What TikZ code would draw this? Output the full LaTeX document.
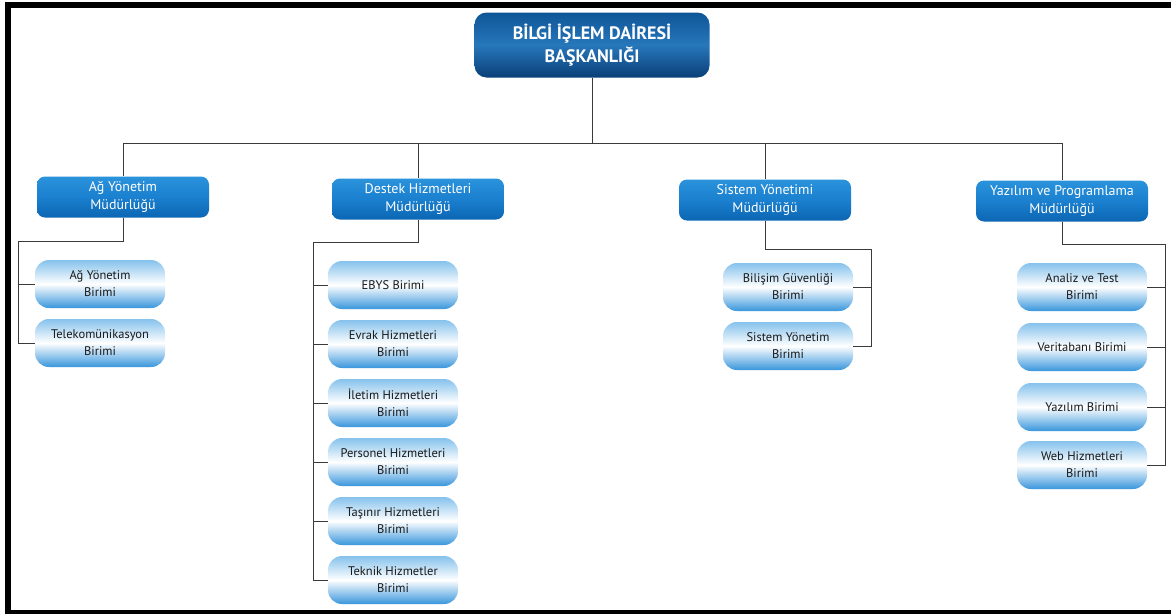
\documentclass[tikz,border=0pt]{standalone}
\usepackage{fontspec}
\setmainfont{PT Sans}
\usetikzlibrary{positioning}

\definecolor{baskanust}{HTML}{0E5597}
\definecolor{baskanorta}{HTML}{2777BB}
\definecolor{baskanalt}{HTML}{0A3F78}
\definecolor{mudurust}{HTML}{2B92DC}
\definecolor{mudurorta}{HTML}{1A80CF}
\definecolor{muduralt}{HTML}{0C66B3}
\definecolor{birimust}{HTML}{86C2EC}
\definecolor{birimalt}{HTML}{3896DC}
\definecolor{hatrengi}{HTML}{3A3A3A}

\begin{document}
\begin{tikzpicture}[x=1pt,y=-1pt,
    baskan/.style={rounded corners=12pt,minimum width=235pt,minimum height=65pt,
        top color=baskanust,bottom color=baskanalt,middle color=baskanorta,
        text=white,align=center,font=\bfseries\fontsize{18}{23}\selectfont},
    mudur/.style={rounded corners=8pt,minimum width=172pt,minimum height=41pt,
        inner sep=1pt,top color=mudurust,bottom color=muduralt,middle color=mudurorta,
        text=white,align=center,font=\fontsize{14}{18}\selectfont},
    birim/.style={rounded corners=14pt,minimum width=130pt,minimum height=48pt,
        inner sep=1pt,top color=birimust,bottom color=birimalt,middle color=white,
        text=black!90,align=center,font=\fontsize{12.5}{17}\selectfont},
    hat/.style={draw=hatrengi,line width=1pt}]

    \useasboundingbox (0,0) rectangle (1171,614);
    \fill[white] (0,0) rectangle (1171,614);
    % frame
    \draw[line width=6pt] (8,614) -- (8,4.5) -- (1171,4.5);
    \draw[line width=4pt] (5,612) -- (1171,612);

    \node[baskan] (bdb) at (592,45) {BİLGİ İŞLEM DAİRESİ\\BAŞKANLIĞI};

    \node[mudur] (agm) at (123,197) {Ağ Yönetim\\Müdürlüğü};
    \node[mudur] (dsm) at (418,199) {Destek Hizmetleri\\Müdürlüğü};
    \node[mudur] (ssm) at (765,200) {Sistem Yönetimi\\Müdürlüğü};
    \node[mudur] (yzm) at (1062,201) {Yazılım ve Programlama\\Müdürlüğü};

    \node[birim] (ag1) at (100,284) {Ağ Yönetim\\Birimi};
    \node[birim] (ag2) at (100,343) {Telekomünikasyon\\Birimi};

    \node[birim] (ds1) at (393,285) {EBYS Birimi};
    \node[birim] (ds2) at (393,344) {Evrak Hizmetleri\\Birimi};
    \node[birim] (ds3) at (393,403) {İletim Hizmetleri\\Birimi};
    \node[birim] (ds4) at (393,462) {Personel Hizmetleri\\Birimi};
    \node[birim] (ds5) at (393,521) {Taşınır Hizmetleri\\Birimi};
    \node[birim] (ds6) at (393,580) {Teknik Hizmetler\\Birimi};

    \node[birim] (ss1) at (788,287) {Bilişim Güvenliği\\Birimi};
    \node[birim] (ss2) at (788,346) {Sistem Yönetim\\Birimi};

    \node[birim] (yz1) at (1082,287) {Analiz ve Test\\Birimi};
    \node[birim] (yz2) at (1082,347) {Veritabanı Birimi};
    \node[birim] (yz3) at (1082,407) {Yazılım Birimi};
    \node[birim] (yz4) at (1082,465) {Web Hizmetleri\\Birimi};

    \coordinate (bar) at (592,143);
    \coordinate (agbus) at (18,241);
    \coordinate (dsbus) at (313,242);
    \coordinate (ssbus) at (871,249);
    \coordinate (yzbus) at (1165,244);

    \draw[hat] (bdb) -- (bar);
    \draw[hat] (bar) -| (agm.north);
    \draw[hat] (bar) -| (dsm.north);
    \draw[hat] (bar) -| (ssm.north);
    \draw[hat] (bar) -| (yzm.north);

    \draw[hat] (agm.south) |- (agbus) |- (ag1.west);
    \draw[hat] (agbus) |- (ag2.west);

    \draw[hat] (dsm.south) |- (dsbus) |- (ds1.west);
    \draw[hat] (dsbus) |- (ds2.west);
    \draw[hat] (dsbus) |- (ds3.west);
    \draw[hat] (dsbus) |- (ds4.west);
    \draw[hat] (dsbus) |- (ds5.west);
    \draw[hat] (dsbus) |- (ds6.west);

    \draw[hat] (ssm.south) |- (ssbus) |- (ss1.east);
    \draw[hat] (ssbus) |- (ss2.east);

    \draw[hat] (yzm.south) |- (yzbus) |- (yz1.east);
    \draw[hat] (yzbus) |- (yz2.east);
    \draw[hat] (yzbus) |- (yz3.east);
    \draw[hat] (yzbus) |- (yz4.east);
\end{tikzpicture}
\end{document}
